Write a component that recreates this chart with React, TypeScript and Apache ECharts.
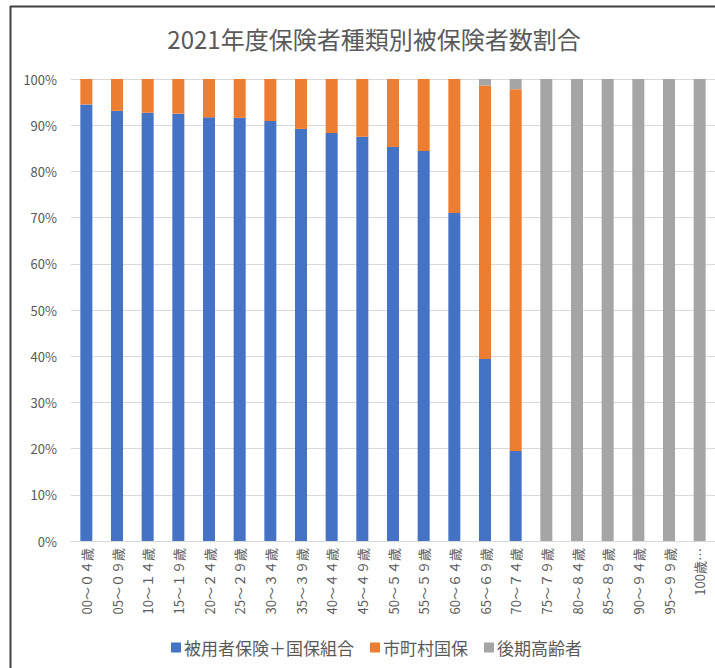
import React, { useEffect, useRef } from "react";
import * as echarts from "echarts";

const title = "2021年度保険者種類別被保険者数割合";
const categories = [
  "00～０４歳", "05～０９歳", "10～１４歳", "15～１９歳", "20～２４歳", "25～２９歳",
  "30～３４歳", "35～３９歳", "40～４４歳", "45～４９歳", "50～５４歳", "55～５９歳",
  "60～６４歳", "65～６９歳", "70～７４歳", "75～７９歳", "80～８４歳", "85～８９歳",
  "90～９４歳", "95～９９歳", "100歳…",
];
const seriesNames = ["被用者保険＋国保組合", "市町村国保", "後期高齢者"];
const employeeIns = [94.5, 93.1, 92.7, 92.5, 91.7, 91.6, 90.9, 89.2, 88.3, 87.5, 85.3, 84.4, 71.0, 39.4, 19.5, 0, 0, 0, 0, 0, 0];
const municipalNhi = [5.5, 6.9, 7.3, 7.5, 8.3, 8.4, 9.1, 10.8, 11.7, 12.5, 14.7, 15.6, 29.0, 59.2, 78.3, 0, 0, 0, 0, 0, 0];
const lateElderly = [0, 0, 0, 0, 0, 0, 0, 0, 0, 0, 0, 0, 0, 1.4, 2.2, 100, 100, 100, 100, 100, 100];
const colors = ["#4472C4", "#ED7D31", "#A5A5A5"];

const FONT = "'Noto Sans CJK JP', 'Noto Sans', sans-serif";

export default function App() {
  const ref = useRef<HTMLDivElement>(null);
  useEffect(() => {
    if (!ref.current) return;
    const chart = echarts.init(ref.current, undefined, { renderer: "svg" });
    const values = [employeeIns, municipalNhi, lateElderly];
    chart.setOption({
      animation: false,
      color: colors,
      textStyle: { fontFamily: FONT },
      title: {
        text: title,
        left: 369,
        top: 21,
        textAlign: "center",
        textStyle: { fontFamily: FONT, fontSize: 24, fontWeight: "normal", color: "#595959" },
      },
      legend: {
        left: 166,
        top: 634,
        itemWidth: 10,
        itemHeight: 10,
        itemGap: 16,
        icon: "rect",
        textStyle: { fontFamily: FONT, fontSize: 17, color: "#595959", padding: [0, 0, 0, -2] },
        data: seriesNames,
      },
      grid: { left: 71, top: 79, width: 644, height: 462, containLabel: false },
      xAxis: {
        type: "category",
        data: categories,
        axisLine: { show: true, lineStyle: { color: "#D9D9D9", width: 1 } },
        axisTick: { show: false },
        axisLabel: {
          rotate: 90,
          interval: 0,
          margin: 7,
          fontFamily: FONT,
          fontSize: 13,
          color: "#595959",
        },
      },
      yAxis: {
        type: "value",
        min: 0,
        max: 100,
        interval: 10,
        axisLine: { show: false },
        axisTick: { show: false },
        splitLine: { lineStyle: { color: "#D9D9D9", width: 1 } },
        axisLabel: {
          formatter: (v: number) => `${v}%`,
          margin: 14,
          fontFamily: FONT,
          fontSize: 13,
          color: "#595959",
        },
      },
      graphic: [
        { type: "line", shape: { x1: 10.5, y1: 6, x2: 10.5, y2: 668 }, style: { stroke: "#404040", lineWidth: 2 } },
        { type: "line", shape: { x1: 10, y1: 6.5, x2: 715, y2: 6.5 }, style: { stroke: "#404040", lineWidth: 2 } },
      ],
      series: seriesNames.map((name, i) => ({
        name,
        type: "bar",
        stack: "total",
        barWidth: 12,
        data: values[i],
        itemStyle: { color: colors[i] },
      })),
    });
    return () => chart.dispose();
  }, []);
  return (
    <div
      ref={ref}
      style={{ position: "absolute", left: 0, top: 0, width: 715, height: 668, background: "#fff" }}
    />
  );
}
